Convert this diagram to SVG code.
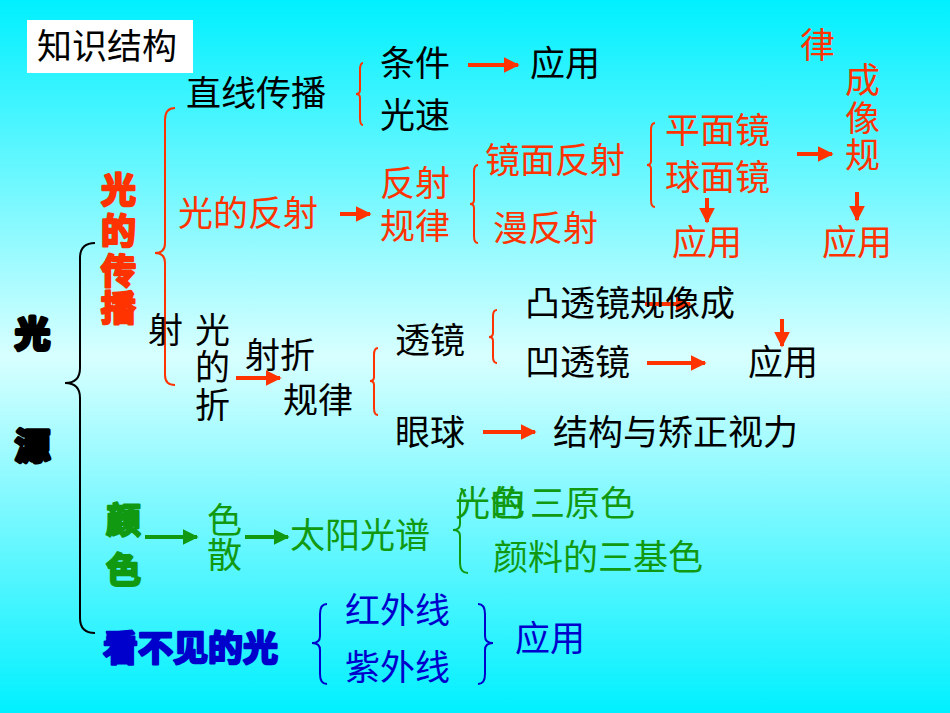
<svg xmlns="http://www.w3.org/2000/svg" width="950" height="713" viewBox="0 0 950 713">
<defs>
<linearGradient id="bg" x1="0" y1="0" x2="0" y2="1">
<stop offset="0" stop-color="#00f0ff"/><stop offset="0.5" stop-color="#d8ffff"/><stop offset="1" stop-color="#00f0ff"/>
</linearGradient>
<marker id="ar" viewBox="0 0 10 10" refX="9" refY="5" markerWidth="4" markerHeight="4" orient="auto"><path d="M0,0L10,5L0,10z" fill="#ff3300"/></marker>
<marker id="ag" viewBox="0 0 10 10" refX="9" refY="5" markerWidth="4" markerHeight="4" orient="auto"><path d="M0,0L10,5L0,10z" fill="#119911"/></marker>
<style>
text{font-family:"Noto Sans CJK SC","Noto Sans CJK JP",sans-serif;font-size:35px}
.k{fill:#000}.r{fill:#ff3300}.g{fill:#119911}.b{fill:#0000cc}
.bold{font-weight:bold;stroke-width:2.5px;stroke-linejoin:round}
.k.bold{stroke:#000;stroke-width:4px}.r.bold{stroke:#ff3300}.g.bold{stroke:#119911}.b.bold{stroke:#0000cc}
.br{fill:none;stroke-width:2}
.ra{stroke:#ff3300;stroke-width:4;marker-end:url(#ar)}
.ga{stroke:#119911;stroke-width:4;marker-end:url(#ag)}
</style>
</defs>
<rect width="950" height="713" fill="url(#bg)"/>
<g id="title"><rect x="27" y="20" width="166" height="53" fill="#fff"/><text x="37" y="59" class="k" font-size="34">知识结构</text></g>
<g id="connectors">
<path class="br" stroke="#000" d="M95,243 Q80,243 80,258 L80,368 Q80,383 65,383 Q80,383 80,398 L80,618 Q80,633 95,633"/>
<path class="br" stroke="#ff3300" d="M175,108 Q165,108 165,120 L165,243 Q165,253 155,253 Q165,253 165,263 L165,375 Q165,385 175,385"/>
<path class="br" stroke="#ff3300" stroke-width="1.5" d="M363,63 Q360,63 360,70 L360,90 Q360,94 356,94 Q360,94 360,98 L360,118 Q360,125 363,125"/>
<path class="br" stroke="#ff3300" stroke-width="1.5" d="M478,165 Q474,165 474,172 L474,200 Q474,204 470,204 Q474,204 474,208 L474,236 Q474,243 478,243"/>
<path class="br" stroke="#ff3300" stroke-width="1.5" d="M655,123 Q651,123 651,130 L651,161 Q651,165 647,165 Q651,165 651,169 L651,200 Q651,207 655,207"/>
<path class="br" stroke="#ff3300" stroke-width="1.5" d="M378,348 Q374,348 374,355 L374,377 Q374,381 370,381 Q374,381 374,385 L374,408 Q374,415 378,415"/>
<path class="br" stroke="#ff3300" stroke-width="1.5" d="M497,310 Q493,310 493,316 L493,333 Q493,337 489,337 Q493,337 493,341 L493,357 Q493,363 497,363"/>
<path class="br" stroke="#119911" d="M466,490 Q460,490 460,500 L460,524 Q460,530 453,530 Q460,530 460,536 L460,563 Q460,573 468,573"/>
<path class="br" stroke="#0000cc" d="M327,604 Q320,604 320,614 L320,636 Q320,643 312,643 Q320,643 320,650 L320,674 Q320,684 327,684"/>
<path class="br" stroke="#0000cc" d="M478,604 Q485,604 485,614 L485,636 Q485,643 493,643 Q485,643 485,650 L485,674 Q485,684 478,684"/>
<line class="ra" x1="468" y1="65" x2="518" y2="65"/>
<line class="ra" x1="340" y1="214" x2="370" y2="214"/>
<line class="ra" x1="797" y1="154" x2="832" y2="154"/>
<line class="ra" x1="707" y1="198" x2="707" y2="222"/>
<line class="ra" x1="857" y1="192" x2="857" y2="220"/>
<line class="ra" x1="236" y1="378" x2="280" y2="378"/>
<line class="ra" x1="645" y1="304" x2="690" y2="304"/>
<line class="ra" x1="782" y1="319" x2="782" y2="346"/>
<line class="ra" x1="647" y1="363" x2="705" y2="363"/>
<line class="ra" x1="483" y1="432" x2="535" y2="432"/>
<line class="ga" x1="145" y1="537" x2="197" y2="537"/>
<line class="ga" x1="245" y1="537" x2="288" y2="537"/>
</g>
<g id="n-guang-yuan"><text x="15" y="347" class="k bold" font-size="38">光</text><text x="15" y="459" class="k bold" font-size="38">源</text></g>
<g id="n-chuanbo"><text x="101" y="203" class="r bold" font-size="35">光</text><text x="101" y="244" class="r bold" font-size="35">的</text><text x="101" y="284" class="r bold" font-size="35">传</text><text x="101" y="321" class="r bold" font-size="35">播</text></g>
<g id="n-zhixian"><text x="186" y="106" class="k">直线传播</text><text x="380" y="76" class="k">条件</text><text x="380" y="128" class="k">光速</text><text x="530" y="76" class="k">应用</text></g>
<g id="n-fanshe"><text x="178" y="226" class="r">光的反射</text><text x="380" y="196" class="r">反射</text><text x="380" y="239" class="r">规律</text>
<text x="485" y="173" class="r">镜面反射</text><text x="493" y="241" class="r">漫反射</text>
<text x="665" y="143" class="r">平面镜</text><text x="665" y="190" class="r">球面镜</text>
<text x="800" y="58" class="r">律</text><text x="845" y="93" class="r">成</text><text x="845" y="131" class="r">像</text><text x="845" y="168" class="r">规</text>
<text x="672" y="255" class="r">应用</text><text x="822" y="255" class="r">应用</text></g>
<g id="n-zheshe"><text x="148" y="343" class="k">射</text><text x="195" y="343" class="k">光</text><text x="195" y="380" class="k">的</text><text x="195" y="418" class="k">折</text>
<text x="245" y="368" class="k">射折</text><text x="283" y="413" class="k">规律</text>
<text x="395" y="353" class="k">透镜</text><text x="395" y="445" class="k">眼球</text>
<text x="525" y="316" class="k">凸透镜规像成</text><text x="525" y="375" class="k">凹透镜</text><text x="748" y="375" class="k">应用</text>
<text x="553" y="445" class="k">结构与矫正视力</text></g>
<g id="n-yanse"><text x="106" y="533" class="g bold" font-size="34">颜</text><text x="106" y="583" class="g bold" font-size="34">色</text>
<text x="207" y="533" class="g">色</text><text x="207" y="568" class="g">散</text><text x="290" y="548" class="g">太阳光谱</text>
<text x="455" y="516" class="g">光</text><text x="490" y="516" class="g">的</text><text x="490" y="516" class="g">色</text><text x="530" y="516" class="g">三原色</text>
<text x="493" y="570" class="g">颜料的三基色</text></g>
<g id="n-kanbujian"><text x="103" y="661" class="b bold" font-size="36">看不见的光</text>
<text x="345" y="623" class="b">红外线</text><text x="345" y="680" class="b">紫外线</text><text x="515" y="651" class="b">应用</text></g>
</svg>
